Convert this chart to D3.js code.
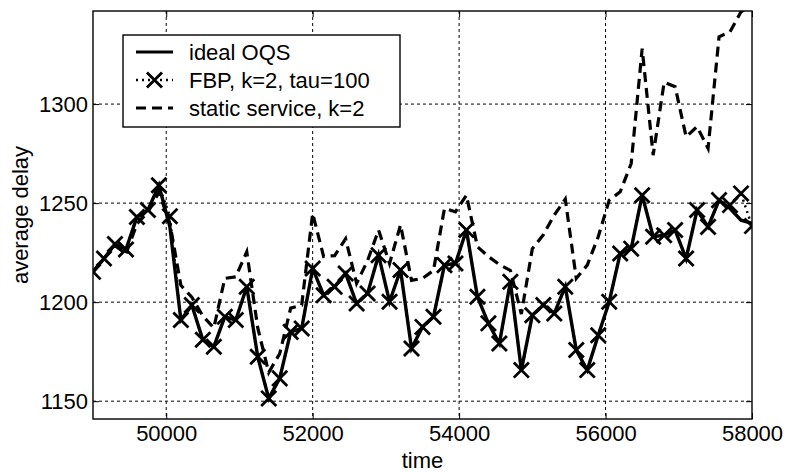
<!DOCTYPE html>
<html>
<head>
<meta charset="utf-8">
<script src="https://cdn.jsdelivr.net/npm/d3@7"></script>
<style>
  body { margin: 0; background: #fff; }
  text { font-family: 'Liberation Sans', Arial, sans-serif; fill: #000; }
</style>
</head>
<body>
<svg id="svg" width="788" height="472"></svg>
<script>
const times = d3.range(61).map(i => 49000 + i * 150)

const ideal = [
  1215.3, 1222, 1229.3, 1226.6, 1243, 1246.5, 1259, 1238, 1191, 1198.5,
  1181, 1177.5, 1192.6, 1191, 1207.8, 1172.4, 1151.4, 1161.5, 1185, 1186.7,
  1217, 1203.5, 1207.8, 1214.5, 1199.3, 1204.4, 1223.7, 1200.2, 1216.2, 1176.6,
  1187.5, 1192.6, 1218.7, 1219.5, 1236.4, 1202.7, 1189.3, 1179.1, 1210.3, 1165.7,
  1193.4, 1198.5, 1194.3, 1207.8, 1175.8, 1165.7, 1183.3, 1200.2, 1224.6, 1227,
  1254, 1233, 1233.8, 1236.4, 1222, 1246.5, 1238, 1251.5, 1247.3, 1241.4, 1239.8
]

const fbp = [
  1215.3, 1222, 1229.3, 1226.6, 1243, 1246.5, 1259, 1243.4, 1191, 1198.5,
  1181, 1177.5, 1192.6, 1191, 1207.8, 1172.4, 1151.4, 1161.5, 1185, 1186.7,
  1217, 1203.5, 1207.8, 1214.5, 1199.3, 1204.4, 1223.7, 1200.2, 1216.2, 1176.6,
  1187.5, 1192.6, 1218.7, 1219.5, 1236.4, 1202.7, 1189.3, 1179.1, 1210.3, 1165.7,
  1193.4, 1198.5, 1194.3, 1207.8, 1175.8, 1165.7, 1183.3, 1200.2, 1224.6, 1227,
  1254, 1233, 1233.8, 1236.4, 1222, 1246.5, 1238, 1251.5, 1249, 1254.9, 1238.4
]

const staticService = [
  1215.3, 1222, 1228.5, 1224.5, 1239.5, 1245.5, 1255.5, 1239.8, 1208.5, 1202.5,
  1193, 1187, 1212, 1212.8, 1225.4, 1187, 1164.5, 1174, 1197, 1198.5,
  1244.8, 1223, 1223.5, 1232, 1209.5, 1221, 1236.4, 1219.5, 1239, 1211,
  1212, 1216, 1247.3, 1245.6, 1254, 1228, 1223, 1219, 1216, 1194,
  1227, 1234, 1244, 1252, 1212, 1218.7, 1233, 1251.5, 1255.7, 1270,
  1328, 1274.2, 1311, 1308.8, 1283.5, 1288.6, 1277.6, 1334, 1336.5, 1346.6, 1350
]

const xTicks = [50000, 52000, 54000, 56000, 58000]
const yTicks = [1150, 1200, 1250, 1300]
const legendLabels = ['ideal OQS', 'FBP, k=2, tau=100', 'static service, k=2']

const svg = d3.select('#svg')
const pLeft = 93
const pRight = 752
const pTop = 11
const pBottom = 419
const fontSize = '22px'

const x = d3.scaleLinear().domain([49000, 58000]).range([pLeft, pRight])
const y = d3.scaleLinear().domain([1141, 1347]).range([pBottom, pTop])

svg.append('clipPath').attr('id', 'clip')
  .append('rect')
  .attr('x', pLeft).attr('y', pTop)
  .attr('width', pRight - pLeft).attr('height', pBottom - pTop)

// grid
const grid = svg.append('g')
  .attr('stroke', '#000')
  .attr('stroke-width', 1)
  .attr('stroke-dasharray', '3,3')
grid.selectAll('.gx')
  .data(xTicks.filter(d => d < 58000))
  .join('line')
  .attr('x1', d => x(d)).attr('x2', d => x(d))
  .attr('y1', pTop).attr('y2', pBottom)
grid.selectAll('.gy')
  .data(yTicks)
  .join('line')
  .attr('x1', pLeft).attr('x2', pRight)
  .attr('y1', d => y(d)).attr('y2', d => y(d))

// axes, ticks inside like MATLAB
const xAxis = svg.append('g')
  .attr('transform', `translate(0,${pBottom})`)
  .call(d3.axisBottom(x).tickValues(xTicks).tickSizeInner(-6).tickSizeOuter(0).tickPadding(6).tickFormat(d3.format('d')))
const xAxisTop = svg.append('g')
  .attr('transform', `translate(0,${pTop})`)
  .call(d3.axisTop(x).tickValues(xTicks).tickSizeInner(-6).tickSizeOuter(0).tickFormat(''))
const yAxis = svg.append('g')
  .attr('transform', `translate(${pLeft},0)`)
  .call(d3.axisLeft(y).tickValues(yTicks).tickSizeInner(-6).tickSizeOuter(0).tickPadding(5).tickFormat(d3.format('d')))
const yAxisRight = svg.append('g')
  .attr('transform', `translate(${pRight},0)`)
  .call(d3.axisRight(y).tickValues(yTicks).tickSizeInner(-6).tickSizeOuter(0).tickFormat(''))

;[xAxis, xAxisTop, yAxis, yAxisRight].forEach(g => {
  g.select('.domain').remove()
  g.selectAll('line').attr('stroke', '#000').attr('stroke-width', 1)
  g.selectAll('text').style('font-size', fontSize).style('font-family', "'Liberation Sans', Arial, sans-serif")
})

svg.append('rect')
  .attr('x', pLeft).attr('y', pTop)
  .attr('width', pRight - pLeft).attr('height', pBottom - pTop)
  .attr('fill', 'none')
  .attr('stroke', '#000')
  .attr('stroke-width', 1.4)

// series
const line = vals => d3.line()
  .x((d, i) => x(times[i]))
  .y(d => y(d))(vals)

const plot = svg.append('g').attr('clip-path', 'url(#clip)')

plot.append('path')
  .attr('d', line(staticService))
  .attr('fill', 'none')
  .attr('stroke', '#000')
  .attr('stroke-width', 3.2)
  .attr('stroke-dasharray', '10,6')

plot.append('path')
  .attr('d', line(ideal))
  .attr('fill', 'none')
  .attr('stroke', '#000')
  .attr('stroke-width', 3.4)

plot.append('path')
  .attr('d', line(fbp))
  .attr('fill', 'none')
  .attr('stroke', '#000')
  .attr('stroke-width', 2.5)
  .attr('stroke-dasharray', '2,4')

const cross = d3.symbol().type(d3.symbolX).size(150)

plot.selectAll('.mk')
  .data(fbp)
  .join('path')
  .attr('transform', (d, i) => `translate(${x(times[i])},${y(d)})`)
  .attr('d', cross)
  .attr('fill', 'none')
  .attr('stroke', '#000')
  .attr('stroke-width', 2.8)

// axis labels
svg.append('text')
  .attr('x', (pLeft + pRight) / 2)
  .attr('y', 468)
  .attr('text-anchor', 'middle')
  .style('font-size', fontSize)
  .text('time')

svg.append('text')
  .attr('transform', `translate(28,${(pTop + pBottom) / 2}) rotate(-90)`)
  .attr('text-anchor', 'middle')
  .style('font-size', fontSize)
  .text('average delay')

// legend
const legend = svg.append('g')
legend.append('rect')
  .attr('x', 123).attr('y', 35)
  .attr('width', 277).attr('height', 92)
  .attr('fill', '#fff')
  .attr('stroke', '#000')
  .attr('stroke-width', 1.4)

const rows = legend.selectAll('.row')
  .data(legendLabels)
  .join('g')
  .attr('transform', (d, i) => `translate(0,${52 + i * 28})`)

rows.append('line')
  .attr('x1', 136).attr('x2', 173)
  .attr('stroke', '#000')
  .attr('stroke-width', (d, i) => i === 1 ? 2.5 : 3.2)
  .attr('stroke-dasharray', (d, i) => ['', '2,4', '10,6'][i])

rows.filter((d, i) => i === 1)
  .append('path')
  .attr('transform', 'translate(154.5,0)')
  .attr('d', cross)
  .attr('fill', 'none')
  .attr('stroke', '#000')
  .attr('stroke-width', 2.8)

rows.append('text')
  .attr('x', 189)
  .attr('dy', '0.36em')
  .style('font-size', fontSize)
  .text(d => d)
</script>
</body>
</html>
